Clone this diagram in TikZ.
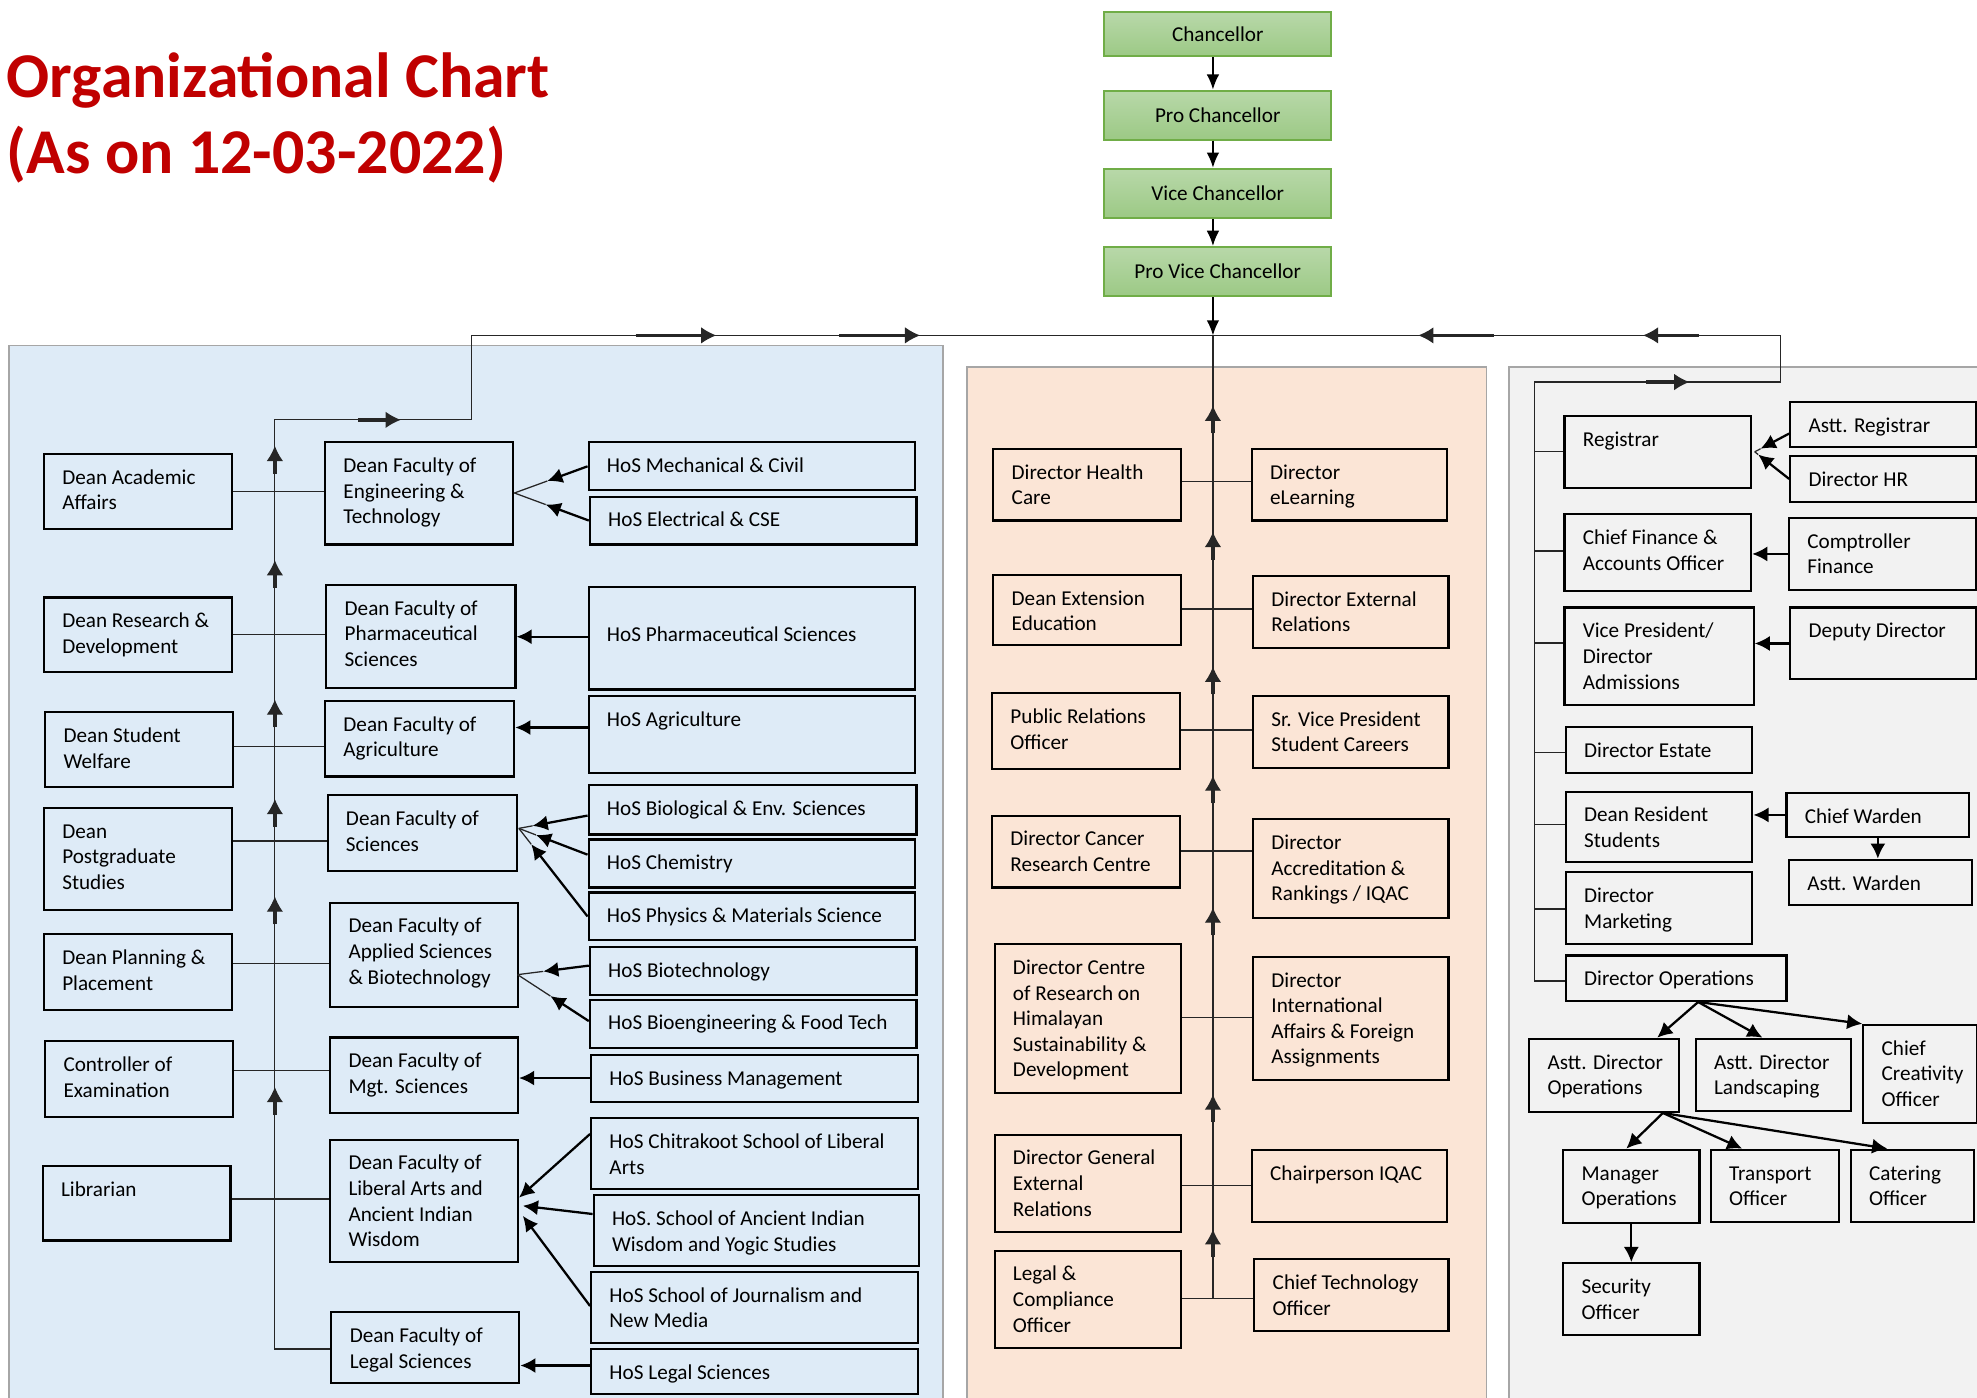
\documentclass[tikz,border=0pt]{standalone}
\usepackage{fontspec}
\setmainfont{Carlito}
\usetikzlibrary{arrows.meta,decorations.markings,calc}
\definecolor{panelblue}{HTML}{DEEBF7}
\definecolor{panelpink}{HTML}{FBE5D6}
\definecolor{panelgray}{HTML}{F2F2F2}
\definecolor{panelline}{HTML}{A6A6A6}
\definecolor{titlered}{HTML}{C00000}
\definecolor{greentop}{HTML}{B8D8A9}
\definecolor{greenbot}{HTML}{9CC985}
\definecolor{greenline}{HTML}{70AD47}
\newcommand\fs{\rule{0pt}{7pt}}
\newcommand\mkbox[7][24.5]{%
  \node[boxst, minimum width={(#5-#3)*0.5pt}, minimum height={(#6-#4)*0.5pt}, anchor=north west] (#2) at (#3,#4) {};
  \node[lbl, anchor=north west] (#2-t) at (#3+15,#4+#1-14) {\fs #7};
}
\newcommand\gbx[4]{%
  \node[gbox, minimum height={(#4-#3)*0.5pt}, anchor=north west] (#1) at (875,#3) {#2};
}
\newcommand\hcon[3]{\coordinate (y-#1) at (0,#3); \draw[conn] (#1.east |- y-#1) -- (#2.west |- y-#1);}
\newcommand\acon[3]{\coordinate (y-#1) at (0,#3); \draw[arr] (#1.west |- y-#1) -- (#2.east |- y-#1);}
\newcommand\gcon[2]{\coordinate (y-#1) at (0,#2); \draw[conn] (rtL |- y-#1) -- (#1.west |- y-#1);}
\newcommand\fan[4]{\coordinate (#4) at ($(#1)!#3!(#2)$); \draw[arr] (#1) -- (#4); \draw[conn] (#4) -- (#2);}
\begin{document}
\begin{tikzpicture}[x=0.5pt,y=-0.5pt,
  boxst/.style={draw=black, line width=0.85pt, inner sep=0pt},
  lbl/.style={inner sep=0pt, align=left, font=\fontsize{8.4}{10.15}\selectfont},
  gbox/.style={draw=greenline, line width=0.8pt, top color=greentop, bottom color=greenbot, minimum width=90pt, inner sep=0pt, font=\fontsize{8.4}{10.15}\selectfont},
  title/.style={inner sep=0pt, text=titlered, font=\fontsize{25.3}{30}\selectfont\bfseries},
  conn/.style={draw=black!85, line width=0.5pt},
  arr/.style={draw=black, line width=0.9pt, -{Latex[length=6pt,width=6pt]}},
  thinarr/.style={draw=black, line width=0.6pt, -{Latex[length=6pt,width=5pt]}},
  mk/.style args={#1/#2}{postaction={decorate,decoration={markings,mark=at position #1 with {\draw[line width=1.3pt] (-#2pt,0pt)--(-3pt,0pt); \arrow{Latex[length=6pt,width=6.5pt]}}}}}
]
\useasboundingbox (0,0) rectangle (1568,1108);
% panels
\fill[panelblue] (7,274) rectangle (748,1115);
\draw[panelline, line width=0.7pt] (7,1115) -- (7,274) -- (748,274) -- (748,1115);
\fill[panelpink] (767,291) rectangle (1179,1115);
\draw[panelline, line width=0.6pt] (767,1115) -- (767,291) -- (1179,291) -- (1179,1115);
\fill[panelgray] (1197,291) rectangle (1575,1115);
\draw[panelline, line width=0.6pt] (1197,1115) -- (1197,291) -- (1575,291);
% title
\node[title, anchor=base west] (title1) at (5,77) {Organizational Chart};
\node[title, anchor=base west] (title2) at (5,137.5) {(As on 12-03-2022)};
% top green boxes
\gbx{gnC}{Chancellor}{9}{44}
\gbx{gnPC}{Pro Chancellor}{71}{110}
\gbx{gnVC}{Vice Chancellor}{133}{172}
\gbx{gnPVC}{Pro Vice Chancellor}{195}{234}
% left deans
\mkbox{dAA}{34}{359}{183}{419}{Dean Academic\\Affairs}
\mkbox{dRD}{34}{473}{183}{532}{Dean Research \&\\Development}
\mkbox{dSW}{35}{564}{184}{623}{Dean Student\\Welfare}
\mkbox{dPG}{34}{640}{183}{721}{Dean\\Postgraduate\\Studies}
\mkbox{dPP}{34}{740}{183}{800}{Dean Planning \&\\Placement}
\mkbox{dCE}{35}{825}{184}{885}{Controller of\\Examination}
\mkbox{dLib}{33}{924}{182}{983}{Librarian}
% faculties
\mkbox{fEng}{257}{350}{406}{431}{Dean Faculty of\\Engineering \&\\Technology}
\mkbox{fPh}{258}{463}{408}{545}{Dean Faculty of\\Pharmaceutical\\Sciences}
\mkbox{fAg}{257}{555}{407}{615}{Dean Faculty of\\Agriculture}
\mkbox{fSc}{259}{630}{409}{690}{Dean Faculty of\\Sciences}
\mkbox{fAp}{261}{715}{410}{798}{Dean Faculty of\\Applied Sciences\\\& Biotechnology}
\mkbox{fMg}{261}{822}{410}{882}{Dean Faculty of\\Mgt. Sciences}
\mkbox{fLA}{261}{903}{410}{1000}{Dean Faculty of\\Liberal Arts and\\Ancient Indian\\Wisdom}
\mkbox{fLeg}{262}{1040}{411}{1096}{Dean Faculty of\\Legal Sciences}
% HoS
\mkbox{hMech}{466}{350}{725}{388}{HoS Mechanical \& Civil}
\mkbox{hElec}{467}{393}{726}{431}{HoS Electrical \& CSE}
\mkbox[43]{hPh}{466}{465}{725}{546}{HoS Pharmaceutical Sciences}
\mkbox{hAg}{466}{551}{725}{612}{HoS Agriculture}
\mkbox{hBio}{466}{622}{726}{661}{HoS Biological \& Env. Sciences}
\mkbox{hChem}{466}{665}{725}{703}{HoS Chemistry}
\mkbox{hPhy}{466}{707}{725}{745}{HoS Physics \& Materials Science}
\mkbox{hBt}{467}{750}{726}{788}{HoS Biotechnology}
\mkbox{hBe}{467}{792}{726}{830}{HoS Bioengineering \& Food Tech}
\mkbox{hBM}{468}{836}{727}{873}{HoS Business Management}
\mkbox{hCh}{468}{886}{727}{942}{HoS Chitrakoot School of Liberal\\Arts}
\mkbox{hAIW}{470}{947}{728}{1003}{HoS. School of Ancient Indian\\Wisdom and Yogic Studies}
\mkbox{hJour}{468}{1008}{727}{1064}{HoS School of Journalism and\\New Media}
\mkbox{hLeg}{468}{1069}{727}{1105}{HoS Legal Sciences}
% pink panel
\mkbox{pHC}{787}{355}{936}{412}{Director Health\\Care}
\mkbox{pEL}{992}{355}{1147}{412}{Director\\eLearning}
\mkbox{pEE}{787}{455}{936}{511}{Dean Extension\\Education}
\mkbox{pER}{993}{456}{1148}{513}{Director External\\Relations}
\mkbox{pPR}{786}{549}{935}{609}{Public Relations\\Officer}
\mkbox{pSV}{993}{551}{1148}{608}{Sr. Vice President\\Student Careers}
\mkbox{pCR}{786}{646}{935}{703}{Director Cancer\\Research Centre}
\mkbox{pAR}{993}{649}{1148}{727}{Director\\Accreditation \&\\Rankings / IQAC}
\mkbox{pHim}{788}{748}{936}{866}{Director Centre\\of Research on\\Himalayan\\Sustainability \&\\Development}
\mkbox{pIA}{993}{758}{1148}{856}{Director\\International\\Affairs \& Foreign\\Assignments}
\mkbox{pDG}{788}{899}{936}{976}{Director General\\External\\Relations}
\mkbox{pIQ}{992}{911}{1147}{968}{Chairperson IQAC}
\mkbox{pLC}{788}{991}{936}{1068}{Legal \&\\Compliance\\Officer}
\mkbox{pCT}{994}{998}{1148}{1055}{Chief Technology\\Officer}
% gray panel
\mkbox{gReg}{1240}{329}{1388}{386}{Registrar}
\mkbox{gAR}{1419}{318}{1566}{354}{Astt. Registrar}
\mkbox{gHR}{1419}{361}{1566}{397}{Director HR}
\mkbox{gCF}{1240}{407}{1388}{468}{Chief Finance \&\\Accounts Officer}
\mkbox{gCo}{1418}{410}{1566}{467}{Comptroller\\Finance}
\mkbox{gVP}{1240}{481}{1390}{558}{Vice President/\\Director\\Admissions}
\mkbox{gDD}{1419}{481}{1566}{538}{Deputy Director}
\mkbox{gES}{1241}{576}{1389}{612}{Director Estate}
\mkbox{gDR}{1241}{627}{1389}{683}{Dean Resident\\Students}
\mkbox{gCW}{1416}{628}{1561}{663}{Chief Warden}
\mkbox{gAW}{1418}{681}{1563}{717}{Astt. Warden}
\mkbox{gMk}{1241}{691}{1389}{748}{Director\\Marketing}
\mkbox{gOps}{1241}{757}{1416}{793}{Director Operations}
\mkbox{gADO}{1212}{823}{1331}{881}{Astt. Director\\Operations}
\mkbox{gADL}{1344}{823}{1467}{880}{Astt. Director\\Landscaping}
\mkbox{gCCO}{1477}{812}{1567}{890}{Chief\\Creativity\\Officer}
\mkbox{gMO}{1239}{911}{1347}{969}{Manager\\Operations}
\mkbox{gTO}{1356}{911}{1458}{968}{Transport\\Officer}
\mkbox{gCat}{1467}{911}{1565}{968}{Catering\\Officer}
\mkbox{gSec}{1239}{1001}{1347}{1058}{Security\\Officer}
% ---------- connectors ----------
\coordinate (busC) at (962,266);
\coordinate (busL) at (374,266);
\coordinate (busR) at (1412,266);
\draw[thinarr] (gnC.south -| busC) -- (gnPC.north -| busC);
\draw[thinarr] (gnPC.south -| busC) -- (gnVC.north -| busC);
\draw[thinarr] (gnVC.south -| busC) -- (gnPVC.north -| busC);
\draw[thinarr] (gnPVC.south -| busC) -- (busC);
\draw[conn, mk=0.330/32, mk=0.605/32] (busL) -- (busC);
\draw[conn, mk=0.242/22, mk=0.638/30] (busR) -- (busC);
% left trunk
\coordinate (ltT) at (218,333);
\coordinate (ltB) at (218,1070);
\draw[conn] (busL) -- (busL |- ltT) -- (ltT) -- (ltB) -- (fLeg.west |- ltB);
\draw[conn, mk=0.64/17] (ltT) -- (busL |- ltT);
\draw[conn, mk=0.282/11, mk=0.487/11, mk=0.592/11, mk=0.699/11, mk=0.849/11, mk=0.972/11] (ltB) -- (ltT);
% pink trunk
\coordinate (ptB) at (962,1030);
\draw[conn, mk=0.072/11, mk=0.212/11, mk=0.406/11, mk=0.543/11, mk=0.656/11, mk=0.796/11, mk=0.927/11] (ptB) -- (busC);
% right trunk
\coordinate (rtC) at (1412,303);
\coordinate (rtL) at (1217,303);
\coordinate (rtB) at (1217,778);
\draw[conn] (busR) -- (rtC) -- (rtL) -- (rtB) -- (gOps.west |- rtB);
\draw[conn, mk=0.63/17] (rtL) -- (rtC);
% dean lines
\hcon{dAA}{fEng}{390}
\hcon{dRD}{fPh}{503}
\hcon{dSW}{fAg}{592}
\hcon{dPG}{fSc}{667}
\hcon{dPP}{fAp}{764}
\hcon{dCE}{fMg}{849}
\hcon{dLib}{fLA}{951}
% pink lines
\hcon{pHC}{pEL}{382}
\hcon{pEE}{pER}{483}
\hcon{pPR}{pSV}{579}
\hcon{pCR}{pAR}{675}
\hcon{pHim}{pIA}{807}
\hcon{pDG}{pIQ}{940}
\hcon{pLC}{pCT}{1030}
% gray branches
\gcon{gReg}{358}
\gcon{gCF}{437}
\gcon{gVP}{510}
\gcon{gES}{597}
\gcon{gDR}{654}
\gcon{gMk}{721}
% HoS -> faculty straight arrows
\acon{hPh}{fPh}{505}
\acon{hAg}{fAg}{577}
\acon{hBM}{fMg}{855}
\acon{hLeg}{fLeg}{1083}
% fans
\coordinate (cEng) at (408,391);
\fan{hMech.west}{cEng}{0.55}{mMech}
\fan{hElec.west}{cEng}{0.58}{mElec}
\coordinate (cSc) at (411.5,657);
\coordinate (sBio) at ($(hBio.west)+(0,4.5)$);
\coordinate (sChem) at ($(hChem.west)+(0,-7)$);
\fan{sBio}{cSc}{0.8}{mBio}
\fan{sChem}{cSc}{0.75}{mChem}
\fan{hPhy.west}{cSc}{0.82}{mPhy}
\coordinate (cAp) at (410.5,773);
\coordinate (sBt) at ($(hBt.west)+(0,-4)$);
\coordinate (sBe) at ($(hBe.west)+(0,-2)$);
\fan{sBt}{cAp}{0.64}{mBt}
\fan{sBe}{cAp}{0.54}{mBe}
% liberal arts
\coordinate (sCh) at ($(hCh.west)+(0,-15.5)$);
\coordinate (sAIW) at ($(hAIW.west)+(0,-13)$);
\coordinate (sJour) at ($(hJour.west)+(0,-1)$);
\draw[arr] (sCh) -- ($(fLA.east)+(0,-2.5)$);
\draw[arr] (sAIW) -- ($(fLA.east)+(3,4)$);
\draw[arr] (sJour) -- ($(fLA.east)+(3,12)$);
% registrar
\coordinate (cReg) at ($(gReg.east)+(2,0)$);
\coordinate (sAR) at ($(gAR.west)+(0,7)$);
\fan{sAR}{cReg}{0.83}{mAR}
\fan{gHR.west}{cReg}{0.9}{mHR}
% other gray arrows
\draw[arr] (gCo.west) -- (gCo.west -| gCF.east);
\draw[arr] (gDD.west) -- (gDD.west -| gVP.east);
\draw[arr] (gCW.west) -- (gCW.west -| gDR.east);
\draw[arr] (gCW.south) -- (gCW.south |- gAW.north);
\coordinate (f1) at ($(gOps.south)+(17.5,0)$);
\draw[arr] (f1) -- ($(gADO.north)+(42,0)$);
\draw[arr] (f1) -- ($(gADL.north)+(-8.5,0)$);
\draw[arr] (f1) -- (gCCO.north west);
\coordinate (f2) at ($(gADO.south)+(46.5,0)$);
\draw[arr] (f2) -- ($(gMO.north)+(-4,0)$);
\draw[arr] (f2) -- ($(gTO.north)+(-26,0)$);
\draw[arr] (f2) -- ($(gCat.north)+(-20,0)$);
\draw[arr] (gMO.south) -- (gSec.north);
\end{tikzpicture}
\end{document}
